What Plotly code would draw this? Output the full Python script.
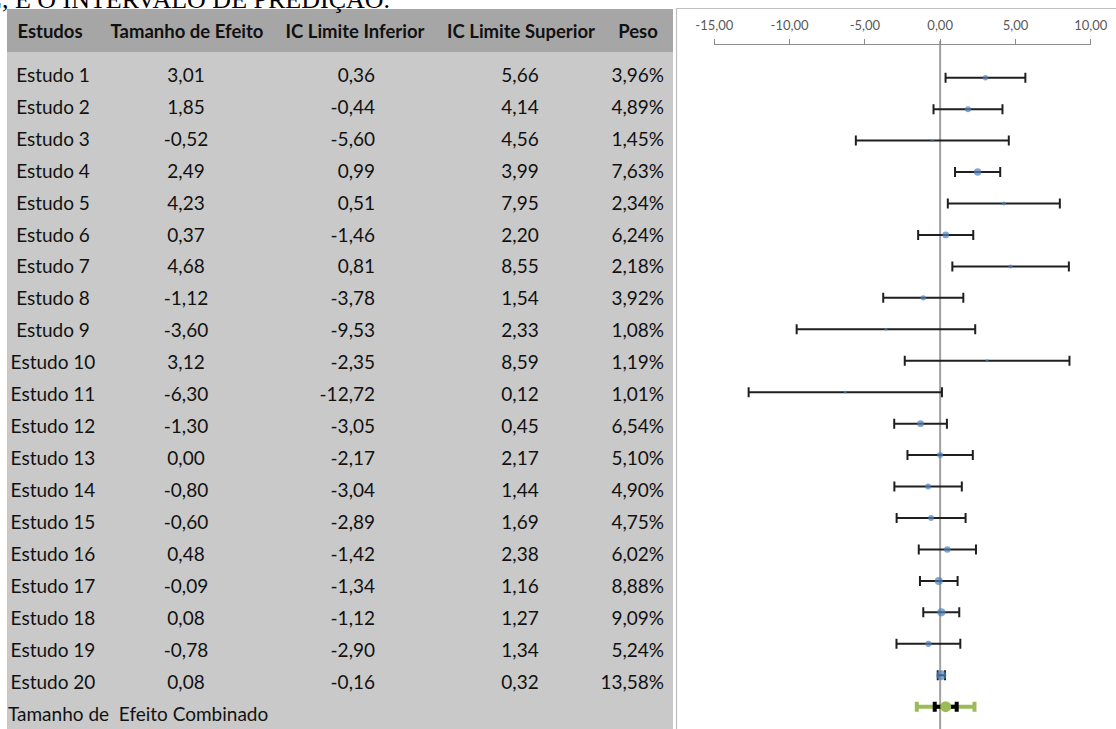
import math
import plotly.graph_objects as go

# ---- data -------------------------------------------------------------
studies = ["Estudo 1", "Estudo 2", "Estudo 3", "Estudo 4", "Estudo 5",
           "Estudo 6", "Estudo 7", "Estudo 8", "Estudo 9", "Estudo 10",
           "Estudo 11", "Estudo 12", "Estudo 13", "Estudo 14", "Estudo 15",
           "Estudo 16", "Estudo 17", "Estudo 18", "Estudo 19", "Estudo 20"]
effect = [3.01, 1.85, -0.52, 2.49, 4.23, 0.37, 4.68, -1.12, -3.60, 3.12,
          -6.30, -1.30, 0.00, -0.80, -0.60, 0.48, -0.09, 0.08, -0.78, 0.08]
ci_low = [0.36, -0.44, -5.60, 0.99, 0.51, -1.46, 0.81, -3.78, -9.53, -2.35,
          -12.72, -3.05, -2.17, -3.04, -2.89, -1.42, -1.34, -1.12, -2.90, -0.16]
ci_high = [5.66, 4.14, 4.56, 3.99, 7.95, 2.20, 8.55, 1.54, 2.33, 8.59,
           0.12, 0.45, 2.17, 1.44, 1.69, 2.38, 1.16, 1.27, 1.34, 0.32]
weight = [3.96, 4.89, 1.45, 7.63, 2.34, 6.24, 2.18, 3.92, 1.08, 1.19,
          1.01, 6.54, 5.10, 4.90, 4.75, 6.02, 8.88, 9.09, 5.24, 13.58]

combined_label = "Tamanho de\u00a0 Efeito Combinado"
combined_effect = 0.37
combined_ci = [-0.36, 1.10]
combined_pi = [-1.55, 2.28]

headers = ["Estudos", "Tamanho de Efeito", "IC Limite Inferior",
           "IC Limite Superior", "Peso"]
tick_vals = [-15, -10, -5, 0, 5, 10]
tick_text = ["-15,00", "-10,00", "-5,00", "0,00", "5,00", "10,00"]
title_text = "L, E O INTERVALO DE PREDIÇÃO."

# ---- page geometry ----------------------------------------------------
W, H = 1116, 729


def px(x):
    return x / W


def py(y):
    return 1 - y / H


def br(v):
    return f"{v:.2f}".replace(".", ",")


FONT = "Lato"
rows = list(range(1, len(studies) + 1))
comb_row = len(studies) + 1
header_row = -0.38

fig = go.Figure()

# ---- forest plot ------------------------------------------------------
fig.add_trace(go.Scatter(
    x=effect, y=rows, mode="markers", xaxis="x", yaxis="y",
    marker=dict(color="#4F81BD", size=[2.7 * math.sqrt(w) for w in weight],
                line=dict(width=0)),
    error_x=dict(type="data", symmetric=False,
                 array=[h - e for h, e in zip(ci_high, effect)],
                 arrayminus=[e - l for e, l in zip(effect, ci_low)],
                 color="#1F1F1F", thickness=2, width=5),
    hoverinfo="skip", showlegend=False))

# prediction interval (green) under the confidence interval (black)
fig.add_trace(go.Scatter(
    x=[combined_effect], y=[comb_row], mode="markers", xaxis="x", yaxis="y",
    marker=dict(color="rgba(0,0,0,0)", size=1),
    error_x=dict(type="data", symmetric=False,
                 array=[combined_pi[1] - combined_effect],
                 arrayminus=[combined_effect - combined_pi[0]],
                 color="#9BBB59", thickness=4, width=5),
    hoverinfo="skip", showlegend=False))
fig.add_trace(go.Scatter(
    x=[combined_effect], y=[comb_row], mode="markers", xaxis="x", yaxis="y",
    marker=dict(color="#9BBB59", size=11, line=dict(width=0)),
    error_x=dict(type="data", symmetric=False,
                 array=[combined_ci[1] - combined_effect],
                 arrayminus=[combined_effect - combined_ci[0]],
                 color="#000000", thickness=4, width=5),
    hoverinfo="skip", showlegend=False))

# ---- table text -------------------------------------------------------
col_x = [53, 186, 375, 520, 664]
col_pos = ["middle center", "middle center", "middle left", "middle center",
           "middle left"]
hdr_x = [50, 187, 355, 521, 638]

columns = [
    studies,
    [br(v) for v in effect],
    [br(v) for v in ci_low],
    [br(v) for v in ci_high],
    [br(v) + "%" for v in weight],
]
for cx, pos, col in zip(col_x, col_pos, columns):
    fig.add_trace(go.Scatter(
        x=[cx] * len(col), y=rows, text=col, mode="text",
        textposition=pos, xaxis="x2", yaxis="y2",
        textfont=dict(family=FONT, size=19, color="#111111"),
        hoverinfo="skip", showlegend=False, cliponaxis=False))

fig.add_trace(go.Scatter(
    x=hdr_x, y=[header_row] * len(headers), text=[f"<b>{h}</b>" for h in headers],
    mode="text", textposition="middle center", xaxis="x2", yaxis="y2",
    textfont=dict(family=FONT, size=18.5, color="#111111"),
    hoverinfo="skip", showlegend=False, cliponaxis=False))

fig.add_trace(go.Scatter(
    x=[8], y=[comb_row], text=[combined_label], mode="text",
    textposition="middle right", xaxis="x2", yaxis="y2",
    textfont=dict(family=FONT, size=19, color="#111111"),
    hoverinfo="skip", showlegend=False, cliponaxis=False))

# ---- shapes: table background, chart frame, zero line ----------------
shapes = [
    dict(type="rect", xref="paper", yref="paper", x0=px(7), x1=px(673),
         y0=py(52), y1=py(9), fillcolor="#A6A6A6", line=dict(width=0),
         layer="below"),
    dict(type="rect", xref="paper", yref="paper", x0=px(7), x1=px(673),
         y0=py(740), y1=py(52), fillcolor="#C9C9C9", line=dict(width=0),
         layer="below"),
    dict(type="rect", xref="paper", yref="paper", x0=px(676.5), x1=px(1130),
         y0=py(740), y1=py(8.5), fillcolor="rgba(0,0,0,0)",
         line=dict(color="#BFBFBF", width=1.2), layer="below"),
    dict(type="line", xref="x", yref="paper", x0=0, x1=0,
         y0=0, y1=py(41), line=dict(color="#A0A0A0", width=2),
         layer="below"),
]

# chart rows
row_px = 31.45
first_px = 77.7
top_chart = 45.0
y_top = 1 - (first_px - top_chart) / row_px
y_bot = 1 + (H - first_px) / row_px

# table rows (slightly taller than the chart rows)
t_row_px = 31.95
t_first_px = 77.0
t_top = 1 - t_first_px / t_row_px
t_bot = 1 + (H - t_first_px) / t_row_px

fig.update_layout(
    template="none",
    width=W, height=H, margin=dict(l=0, r=0, t=0, b=0, pad=0),
    autosize=False,
    paper_bgcolor="white", plot_bgcolor="rgba(0,0,0,0)",
    shapes=shapes,
    xaxis=dict(domain=[px(714.3), px(1090.7)], range=[-15, 10], anchor="y",
               side="top", showgrid=False, zeroline=False, showline=True,
               automargin=False,
               linecolor="#8C8C8C", linewidth=1, ticks="outside", ticklen=5,
               tickcolor="#8C8C8C", tickwidth=1, tickvals=tick_vals,
               ticktext=tick_text, ticklabelstandoff=4,
               tickfont=dict(family=FONT, size=13, color="#595959")),
    yaxis=dict(domain=[0, py(top_chart)], range=[y_bot, y_top], anchor="x",
               visible=False, automargin=False),
    xaxis2=dict(domain=[0, px(673)], range=[0, 673], anchor="y2",
                visible=False, automargin=False),
    yaxis2=dict(domain=[0, 1], range=[t_bot, t_top], anchor="x2",
                visible=False, automargin=False),
    annotations=[dict(text=title_text, xref="paper", yref="paper",
                      x=px(-16), y=py(16), xanchor="left", yanchor="bottom",
                      showarrow=False,
                      font=dict(family="Liberation Serif", size=26,
                                color="#000000"))],
)

fig.write_html("out.html")
